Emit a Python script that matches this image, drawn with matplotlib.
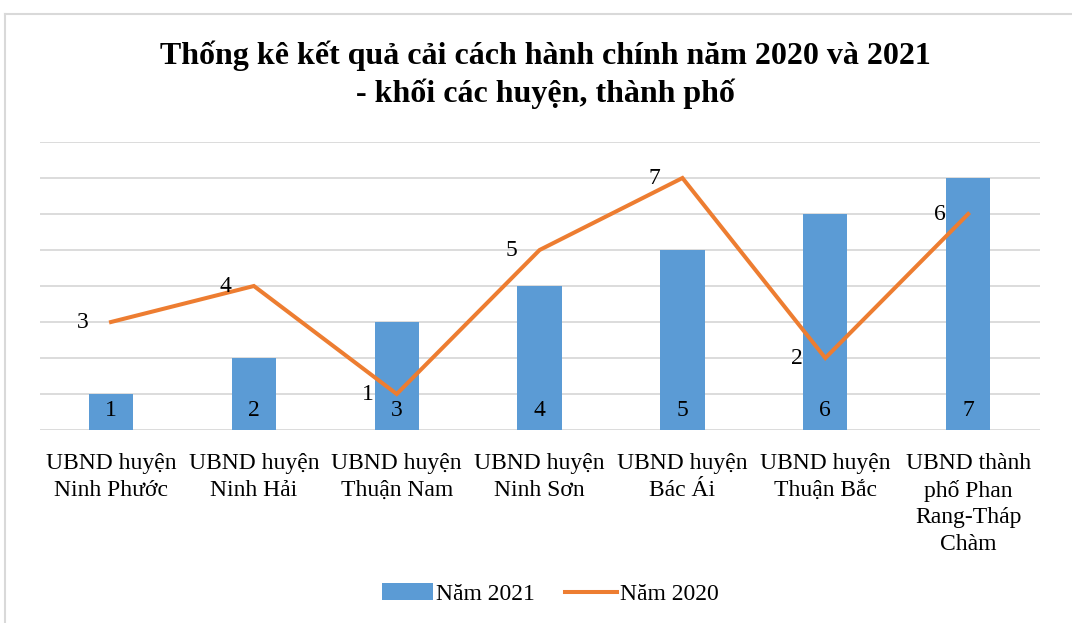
import matplotlib
matplotlib.use("Agg")
import matplotlib.pyplot as plt
from matplotlib.lines import Line2D
from matplotlib.patches import Patch
import numpy as np

plt.rcParams['font.family'] = ['Liberation Serif', 'DejaVu Serif']

# data
categories = ["UBND huyện\nNinh Phước", "UBND huyện\nNinh Hải", "UBND huyện\nThuận Nam",
              "UBND huyện\nNinh Sơn", "UBND huyện\nBác Ái", "UBND huyện\nThuận Bắc",
              "UBND thành\nphố Phan\nRang-Tháp\nChàm"]
nam2021 = [1, 2, 3, 4, 5, 6, 7]
nam2020 = [3, 4, 1, 5, 7, 2, 6]
title = "Thống kê kết quả cải cách hành chính năm 2020 và 2021\n- khối các huyện, thành phố"

blue = "#5B9BD5"
orange = "#ED7D31"

W, H = 1072, 623
fig = plt.figure(figsize=(W / 100, H / 100), dpi=100)

# outer chart border (top and left visible)
fig.add_artist(Line2D([5 / W, 5 / W], [0, 1 - 14 / H], color="#d9d9d9", lw=1.5))
fig.add_artist(Line2D([5 / W, 1], [1 - 14 / H, 1 - 14 / H], color="#d9d9d9", lw=1.5))

ax = fig.add_axes([39.6 / W, 1 - 430 / H, 1000 / W, 288 / H])
x = np.arange(len(categories))

ax.bar(x, nam2021, width=0.31, color=blue, zorder=2)
ax.plot(x, nam2020, color=orange, lw=2.9, zorder=3, solid_joinstyle="miter")

for xi, v in zip(x, nam2021):
    ax.text(xi, 0.55, str(v), ha="center", va="center", fontsize=17, zorder=4)
for xi, v in zip(x, nam2020):
    ax.text(xi - 0.2, v, str(v), ha="center", va="center", fontsize=17, zorder=4)

ax.set_xlim(-0.5, len(categories) - 0.5)
ax.set_ylim(0, 8)
ax.set_yticks(range(0, 9))
ax.yaxis.grid(True, color="#d9d9d9", lw=1.3)
ax.set_axisbelow(True)
ax.tick_params(axis="y", left=False, labelleft=False)
ax.tick_params(axis="x", bottom=False, pad=13)
ax.set_xticks(x)
ax.set_xticklabels(categories, fontsize=17, linespacing=1.35, va="top")
for s in ax.spines.values():
    s.set_visible(False)

fig.text(545 / W, 1 - 75 / H, title, ha="center", va="center", fontsize=23,
         fontweight="bold", linespacing=1.32)

handles = [Patch(facecolor=blue, label="Năm 2021"),
           Line2D([0], [0], color=orange, lw=2.9, label="Năm 2020")]
fig.legend(handles=handles, loc="center", bbox_to_anchor=(550 / W, 1 - 594 / H), ncol=2,
           frameon=False, fontsize=17, handlelength=2.2, handletextpad=0.1,
           columnspacing=1.3)

fig.savefig("out.png", dpi=100)
